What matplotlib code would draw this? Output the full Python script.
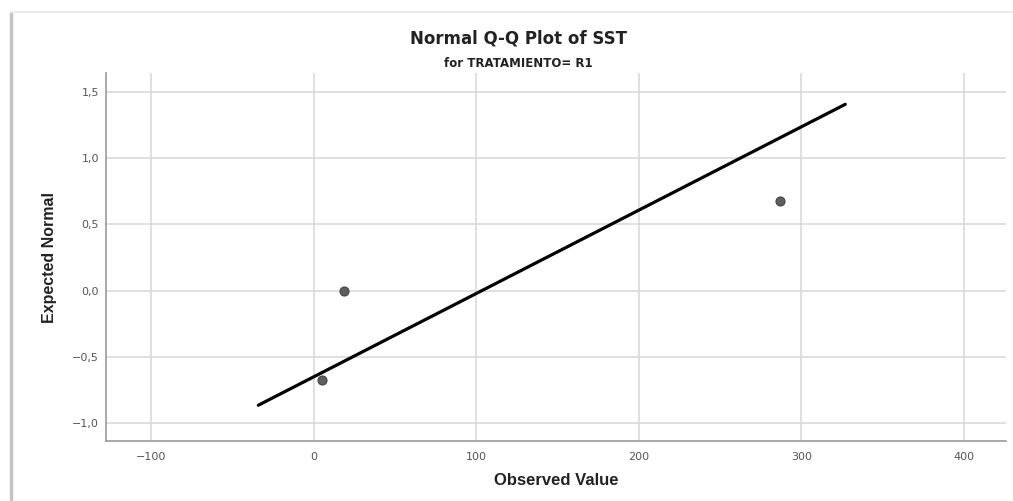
import numpy as np
import matplotlib
matplotlib.use('Agg')
import matplotlib.pyplot as plt
from matplotlib.ticker import FuncFormatter
from matplotlib.lines import Line2D

observed = [5.3, 18.5, 286.7]
expected = [-0.674, 0.0, 0.674]

# reference line range
line_x = np.array([-34.0, 327.0])
mean = np.mean(observed)
sd = np.std(observed, ddof=1)
line_y = (line_x - mean) / sd

xticks = [-100, 0, 100, 200, 300, 400]
yticks = [-1.0, -0.5, 0.0, 0.5, 1.0, 1.5]

fig = plt.figure(figsize=(10.13, 5.01), dpi=100)
ax = fig.add_axes([0.1046, 0.1198, 0.8884, 0.7342])

ax.plot(line_x, line_y, color='black', linewidth=2.3, solid_capstyle='round', zorder=3)
ax.plot(observed, expected, 'o', color='#5e5e5e', markeredgecolor='#444444',
        markersize=6.5, markeredgewidth=0.8, zorder=4)

ax.set_xlim(-127.7, 425.8)
ax.set_ylim(-1.136, 1.643)
ax.set_xticks(xticks)
ax.set_yticks(yticks)
ax.yaxis.set_major_formatter(FuncFormatter(lambda v, p: ('%.1f' % v).replace('.', ',').replace('-', '\u2212')))
ax.xaxis.set_major_formatter(FuncFormatter(lambda v, p: ('%d' % v).replace('-', '\u2212')))
ax.grid(True, color='#dadada', linewidth=1.2)
ax.set_axisbelow(True)
for s in ['top', 'right']:
    ax.spines[s].set_visible(False)
for s in ['left', 'bottom']:
    ax.spines[s].set_color('#9a9a9a')
    ax.spines[s].set_linewidth(1.2)
ax.tick_params(length=0, labelsize=8, colors='#555555')
ax.tick_params(axis='x', pad=8)
ax.tick_params(axis='y', pad=5)

ax.set_xlabel('Observed Value', fontsize=12, fontweight='bold', family='Liberation Sans',
              color='#222222', labelpad=8)
ax.set_ylabel('Expected Normal', fontsize=11.5, fontweight='bold', family='Liberation Sans',
              color='#222222', labelpad=11)

fig.text(0.512, 0.924, 'Normal Q-Q Plot of SST', ha='center', va='center', fontsize=12,
         fontweight='bold', color='#222222')
fig.text(0.512, 0.874, 'for TRATAMIENTO= R1', ha='center', va='center', fontsize=8.5,
         fontweight='bold', color='#222222')

# screenshot frame edges
fig.add_artist(Line2D([0.011, 0.011], [0.0, 0.975], transform=fig.transFigure,
                      color='#c4c4c4', linewidth=2.5))
fig.add_artist(Line2D([0.011, 1.0], [0.976, 0.976], transform=fig.transFigure,
                      color='#ececec', linewidth=1.5))

fig.savefig('out.png', dpi=100)
